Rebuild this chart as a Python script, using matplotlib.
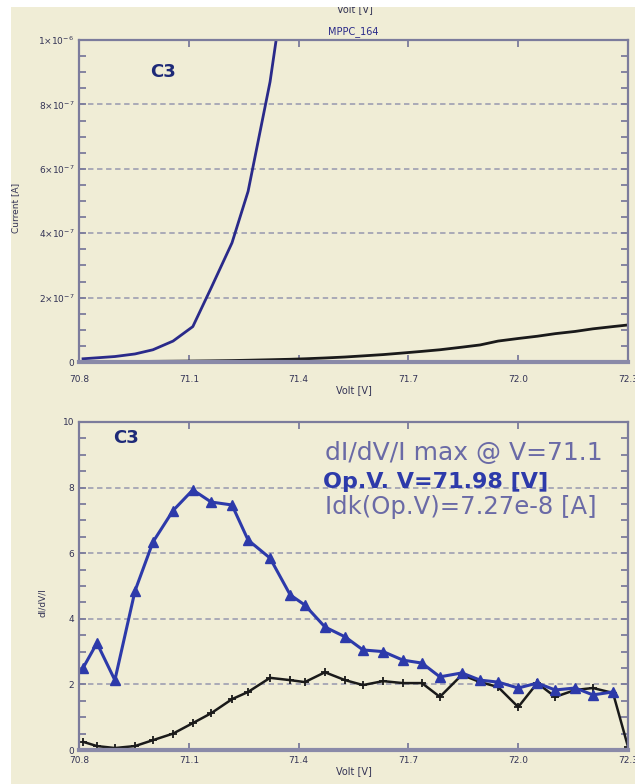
import matplotlib
matplotlib.use("Agg")
import matplotlib.pyplot as plt
from matplotlib.patches import Rectangle
from matplotlib.ticker import MultipleLocator, FixedLocator

BG = '#f0edd6'
NAVY = '#2a2a8a'
BLUE = '#2d3aaa'
TEXT_GREY = '#6a6aa6'
SPINE = '#7c7c9c'
GRID = '#a4a4b4'

# sample voltages [V]
volts = [70.811, 70.849, 70.898, 70.953, 71.002, 71.057, 71.111, 71.161,
         71.218, 71.262, 71.322, 71.377, 71.417, 71.472, 71.527, 71.576,
         71.631, 71.685, 71.737, 71.786, 71.846, 71.896, 71.945, 72.000,
         72.052, 72.101, 72.156, 72.204, 72.259]
volts_dark = volts + [72.300]

# current [A]
cur_blue = [1.0e-8, 1.3e-8, 1.7e-8, 2.5e-8, 3.8e-8, 6.5e-8, 1.1e-7, 2.3e-7,
            3.7e-7, 5.3e-7, 8.7e-7, 1.3e-6]
cur_dark = [1.0e-9, 1.0e-9, 1.2e-9, 1.5e-9, 2.0e-9, 2.5e-9, 3.0e-9, 3.6e-9,
            4.5e-9, 5.5e-9, 7.0e-9, 8.5e-9, 1.0e-8, 1.25e-8, 1.55e-8, 1.9e-8,
            2.3e-8, 2.8e-8, 3.3e-8, 3.8e-8, 4.6e-8, 5.3e-8, 6.5e-8, 7.3e-8,
            8.0e-8, 8.8e-8, 9.5e-8, 1.03e-7, 1.1e-7, 1.15e-7]

# dI/dV/I [1/V]
didv_blue = [2.5, 3.26, 2.13, 4.85, 6.34, 7.3, 7.93, 7.56, 7.47, 6.4, 5.85,
             4.73, 4.42, 3.75, 3.45, 3.05, 3.0, 2.74, 2.65, 2.23, 2.35, 2.13,
             2.07, 1.89, 2.04, 1.83, 1.89, 1.68, 1.77]
didv_dark = [0.25, 0.12, 0.06, 0.12, 0.3, 0.5, 0.82, 1.12, 1.55, 1.77, 2.2,
             2.13, 2.07, 2.37, 2.13, 1.98, 2.1, 2.04, 2.04, 1.62, 2.29, 2.07,
             1.92, 1.31, 2.04, 1.62, 1.83, 1.89, 1.74, 0.1]

xticks = [70.8, 71.1, 71.4, 71.7, 72.0, 72.3]
cur_ticks = [0, 2e-7, 4e-7, 6e-7, 8e-7, 1e-6]
cur_labels = ['0', r'$2{\times}10^{-7}$', r'$4{\times}10^{-7}$',
              r'$6{\times}10^{-7}$', r'$8{\times}10^{-7}$', r'$1{\times}10^{-6}$']

W, H = 635, 784
fig = plt.figure(figsize=(W / 100, H / 100), dpi=100)
fig.patch.set_facecolor(BG)


def box(l, t, r, b):
    return [l / W, 1 - b / H, (r - l) / W, (b - t) / H]


def style(ax, minor, xpad):
    ax.set_facecolor(BG)
    ax.set_xlim(70.8, 72.3)
    ax.xaxis.set_major_locator(FixedLocator(xticks))
    ax.xaxis.set_major_formatter(matplotlib.ticker.FormatStrFormatter('%.1f'))
    ax.yaxis.set_minor_locator(MultipleLocator(minor))
    ax.tick_params(axis='both', which='both', direction='in', top=True,
                   right=True, colors=SPINE, labelcolor='#333355',
                   labelsize=6.5)
    ax.tick_params(axis='y', which='major', length=5, width=1.3)
    ax.tick_params(axis='y', which='minor', length=5, width=1.3)
    ax.tick_params(axis='x', which='major', length=5, width=1.3, pad=xpad)
    for s in ['top', 'left', 'right']:
        ax.spines[s].set_color(SPINE)
        ax.spines[s].set_linewidth(1.6)
    ax.spines['bottom'].set_color('#8a8aa8')
    ax.spines['bottom'].set_linewidth(3)
    ax.grid(axis='y', which='major', color=GRID, linestyle=(0, (3, 2)),
            linewidth=1.3)
    ax.set_axisbelow(True)
    ax.set_xlabel('Volt [V]', fontsize=7, color='#333355', labelpad=1)


# current vs voltage
ax1 = fig.add_axes(box(79, 40, 628, 362))
style(ax1, 5e-8, 9)
ax1.plot(volts_dark, cur_dark, color='#1a1a1a', lw=2.0)
ax1.plot(volts[:len(cur_blue)], cur_blue, color=NAVY, lw=2.0)
ax1.set_ylim(0, 1e-6)
ax1.set_yticks(cur_ticks)
ax1.set_yticklabels(cur_labels)
ax1.set_ylabel('Current [A]', fontsize=6.5, color='#333355')
ax1.yaxis.set_label_coords(-0.108, 0.48)
ax1.set_title('MPPC_164', fontsize=7, color=NAVY, pad=4)
ax1.text(0.13, 0.9, 'C3', transform=ax1.transAxes, fontsize=13,
         fontweight='bold', color='#1e2a78', va='center', ha='left')

# dI/dV/I vs voltage
ax2 = fig.add_axes(box(79, 422, 628, 750))
style(ax2, 0.5, 4)
ax2.plot(volts_dark, didv_dark, color='#1a1a1a', lw=1.8, marker='+',
         markersize=6, markeredgewidth=1.3)
ax2.plot(volts, didv_blue, color=BLUE, lw=2.2, marker='^', markersize=7,
         markerfacecolor=BLUE, markeredgecolor=BLUE)
ax2.set_ylim(0, 10)
ax2.set_yticks([0, 2, 4, 6, 8, 10])
ax2.set_ylabel('dI/dV/I', fontsize=6.5, color='#333355')
ax2.yaxis.set_label_coords(-0.058, 0.45)
ax2.text(0.063, 0.95, 'C3', transform=ax2.transAxes, fontsize=13,
         fontweight='bold', color='#1e2a78', va='center', ha='left')
ax2.text(0.448, 0.905, 'dI/dV/I max @ V=71.1', transform=ax2.transAxes,
         fontsize=18, color=TEXT_GREY, va='center', ha='left')
ax2.text(0.445, 0.817, 'Op.V. V=71.98 [V]', transform=ax2.transAxes,
         fontsize=16, fontweight='bold', color=BLUE, va='center', ha='left')
ax2.text(0.448, 0.741, 'Idk(Op.V)=7.27e-8 [A]', transform=ax2.transAxes,
         fontsize=17.5, color=TEXT_GREY, va='center', ha='left')

# axis label above the upper plot, partly hidden by the white margin
fig.text(355 / W, 1 - 9 / H, 'Volt [V]', fontsize=7, color='#333355',
         ha='center', va='center')

# white margins on top and left
fig.patches.append(Rectangle((0, 1 - 7 / H), 1, 7 / H, transform=fig.transFigure,
                             facecolor='white', edgecolor='none', zorder=10))
fig.patches.append(Rectangle((0, 0), 11 / W, 1, transform=fig.transFigure,
                             facecolor='white', edgecolor='none', zorder=10))

fig.savefig('out.png', dpi=100, facecolor=fig.get_facecolor())
